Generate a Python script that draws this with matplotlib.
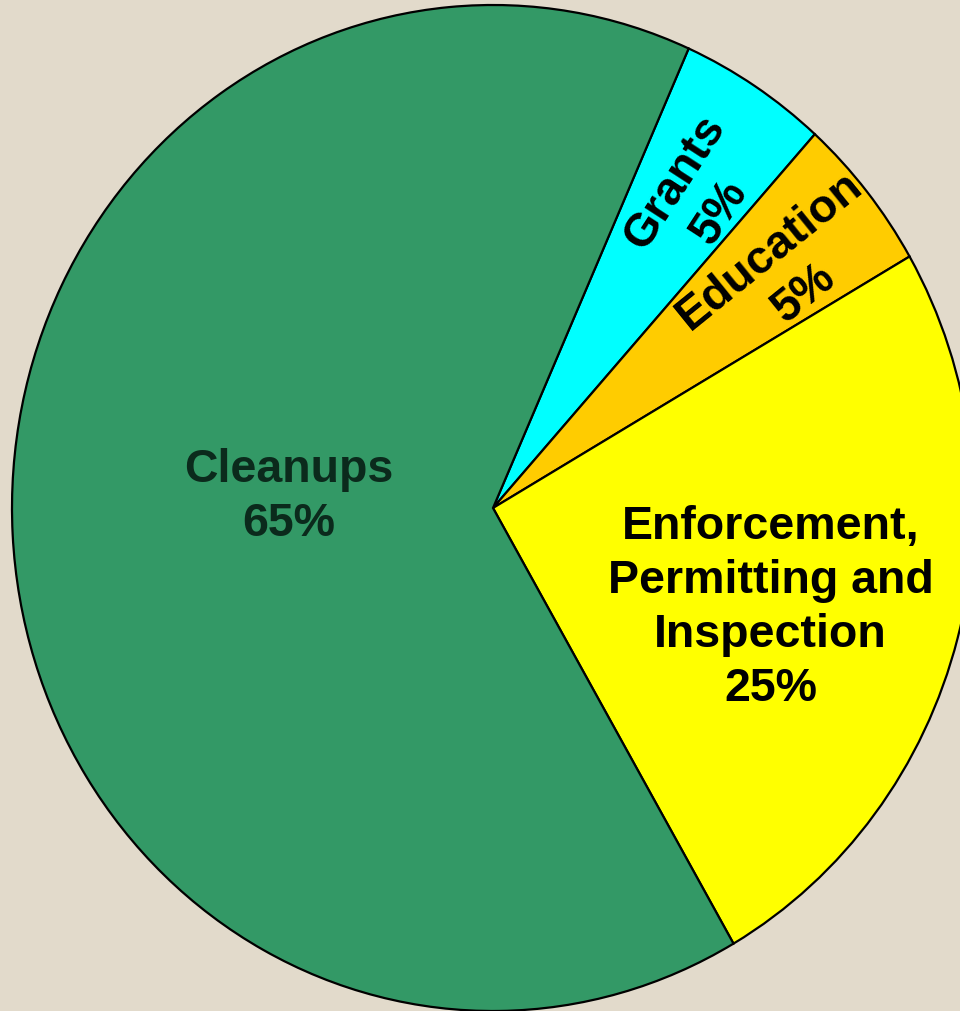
import numpy as np
import matplotlib
matplotlib.use('Agg')
import matplotlib.pyplot as plt

plt.rcParams['font.family'] = ['Liberation Sans', 'DejaVu Sans']

categories = ['Grants', 'Education', 'Enforcement,\nPermitting and\nInspection', 'Cleanups']
shares = [5, 5, 25, 65]
colors = ['#00FFFF', '#FFCC00', '#FFFF00', '#339966']
text_colors = ['black', 'black', 'black', '#0b2a1c']

# label placement (fraction of radius, angle nudge in deg, rotation)
label_r = [0.75, 0.77, 0.61, 0.425]
label_dang = [-1.5, -1.5, -4.0, -6.0]
label_rot = [57, 39, 0, 0]

bg = '#E2DACB'
fig = plt.figure(figsize=(9.6, 10.11), dpi=100)
fig.set_facecolor(bg)
ax = fig.add_axes([0, 0, 1, 1])
ax.set_facecolor(bg)

start = 66
wedges, _ = ax.pie(shares, colors=colors, startangle=start, counterclock=False,
                   wedgeprops=dict(edgecolor='black', linewidth=1.6))

# pie is drawn slightly squashed (ellipse), center ~ (493, 508) px
ax.set_aspect('auto')
ax.set_xlim(-493/481., (960-493)/481.)
ax.set_ylim(-(1011-508)/503., 508/503.)
ax.axis('off')

for w, cat, s, r, da, rot, tc in zip(wedges, categories, shares, label_r, label_dang, label_rot, text_colors):
    mid = np.deg2rad((w.theta1 + w.theta2)/2. + da)
    x = r*np.cos(mid)
    y = r*np.sin(mid)
    ax.text(x, y, '%s\n%d%%' % (cat, s), ha='center', va='center', rotation=rot,
            rotation_mode='anchor', fontsize=33.5, fontweight='bold', color=tc,
            linespacing=1.3)

fig.savefig('out.png', dpi=100, facecolor=bg)
